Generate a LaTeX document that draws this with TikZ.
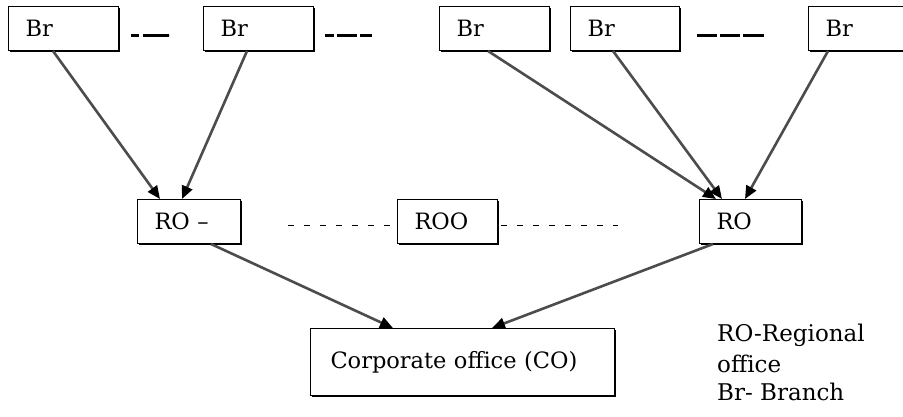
\documentclass[tikz,border=0pt]{standalone}
\usepackage{fontspec}
\setmainfont{DejaVu Serif}
\usetikzlibrary{arrows.meta, positioning, shadows}

\tikzset{
  office/.style 2 args={draw, fill=white, line width=1pt, anchor=north west,
    text width=#1-34pt, minimum height=#2, inner xsep=17pt, inner ysep=0pt,
    align=left, font=\fontsize{22.5}{26}\selectfont,
    drop shadow={shadow xshift=1.3pt, shadow yshift=-1.3pt, opacity=1, fill=black}},
  link/.style={-{Triangle[length=13pt,width=11pt,color=black]}, line width=2.6pt, draw=black!70},
  gap/.style={line width=2.6pt},
  sep/.style={line width=0.8pt, dash pattern=on 6pt off 10pt},
  legend/.style={anchor=base west, inner sep=0pt, font=\fontsize{23}{26}\selectfont},
}

\begin{document}
\begin{tikzpicture}[x=1pt,y=-1pt]
      \useasboundingbox (0,0) rectangle (903,416);

      % branches
      \node[office={110pt}{44pt}] (br1) at (8,6) {Br};
      \node[office={110pt}{44pt}] (br2) at (203,6) {Br};
      \node[office={110pt}{44pt}] (br3) at (439,6) {Br};
      \node[office={109pt}{44pt}] (br4) at (570,6) {Br};
      \node[office={110pt}{44pt}] (br5) at (808,6) {Br};

      % regional offices
      \node[office={103pt}{44pt}] (ro_l) at (137,199) {RO --};
      \node[office={100pt}{44pt}] (ro_o) at (397,199) {ROO};
      \node[office={102pt}{44pt}] (ro_r) at (699,199) {RO};

      % corporate office
      \node[office={304pt}{67pt}, inner xsep=20pt, text width=264pt] (co) at (310,328) {Corporate office (CO)};

      % legend
      \node[legend] (leg_1) at (717,341) {RO-Regional};
      \node[legend] (leg_2) at (717,372) {office};
      \node[legend] (leg_3) at (717,400) {Br- Branch};

      % gaps between branches
      \draw[gap, dash pattern=on 8pt off 4pt on 26pt off 0pt] ([xshift=12pt,yshift=-7pt]br1.east) -- ([xshift=50pt,yshift=-7pt]br1.east);
      \draw[gap, dash pattern=on 9pt off 3pt on 20pt off 3pt on 12pt off 0pt] ([xshift=11pt,yshift=-7pt]br2.east) -- ([xshift=58pt,yshift=-7pt]br2.east);
      \draw[gap, dash pattern=on 20pt off 3pt on 20pt off 3pt on 21pt off 0pt] ([xshift=17pt,yshift=-7pt]br4.east) -- ([xshift=84pt,yshift=-7pt]br4.east);

      % gaps between regional offices
      \draw[sep] ([xshift=47pt,yshift=-4pt]ro_l.east) -- ([yshift=-4pt]ro_o.west);
      \draw[sep] ([xshift=3pt,yshift=-4pt]ro_o.east) -- ([xshift=120pt,yshift=-4pt]ro_o.east);

      % branches to regional offices
      \draw[link] ([xshift=45pt]br1.south west) -- ([xshift=23pt]ro_l.north west);
      \draw[link] ([xshift=44pt]br2.south west) -- ([xshift=45pt]ro_l.north west);
      \draw[link] ([xshift=49pt]br3.south west) -- ([xshift=17pt]ro_r.north west);
      \draw[link] ([xshift=43pt]br4.south west) -- ([xshift=23pt]ro_r.north west);
      \draw[link] ([xshift=20pt]br5.south west) -- ([xshift=46pt]ro_r.north west);

      % regional offices to corporate office
      \draw[link] ([xshift=74pt]ro_l.south west) -- ([xshift=83pt]co.north west);
      \draw[link] ([xshift=14pt]ro_r.south west) -- ([xshift=182pt]co.north west);
\end{tikzpicture}
\end{document}
